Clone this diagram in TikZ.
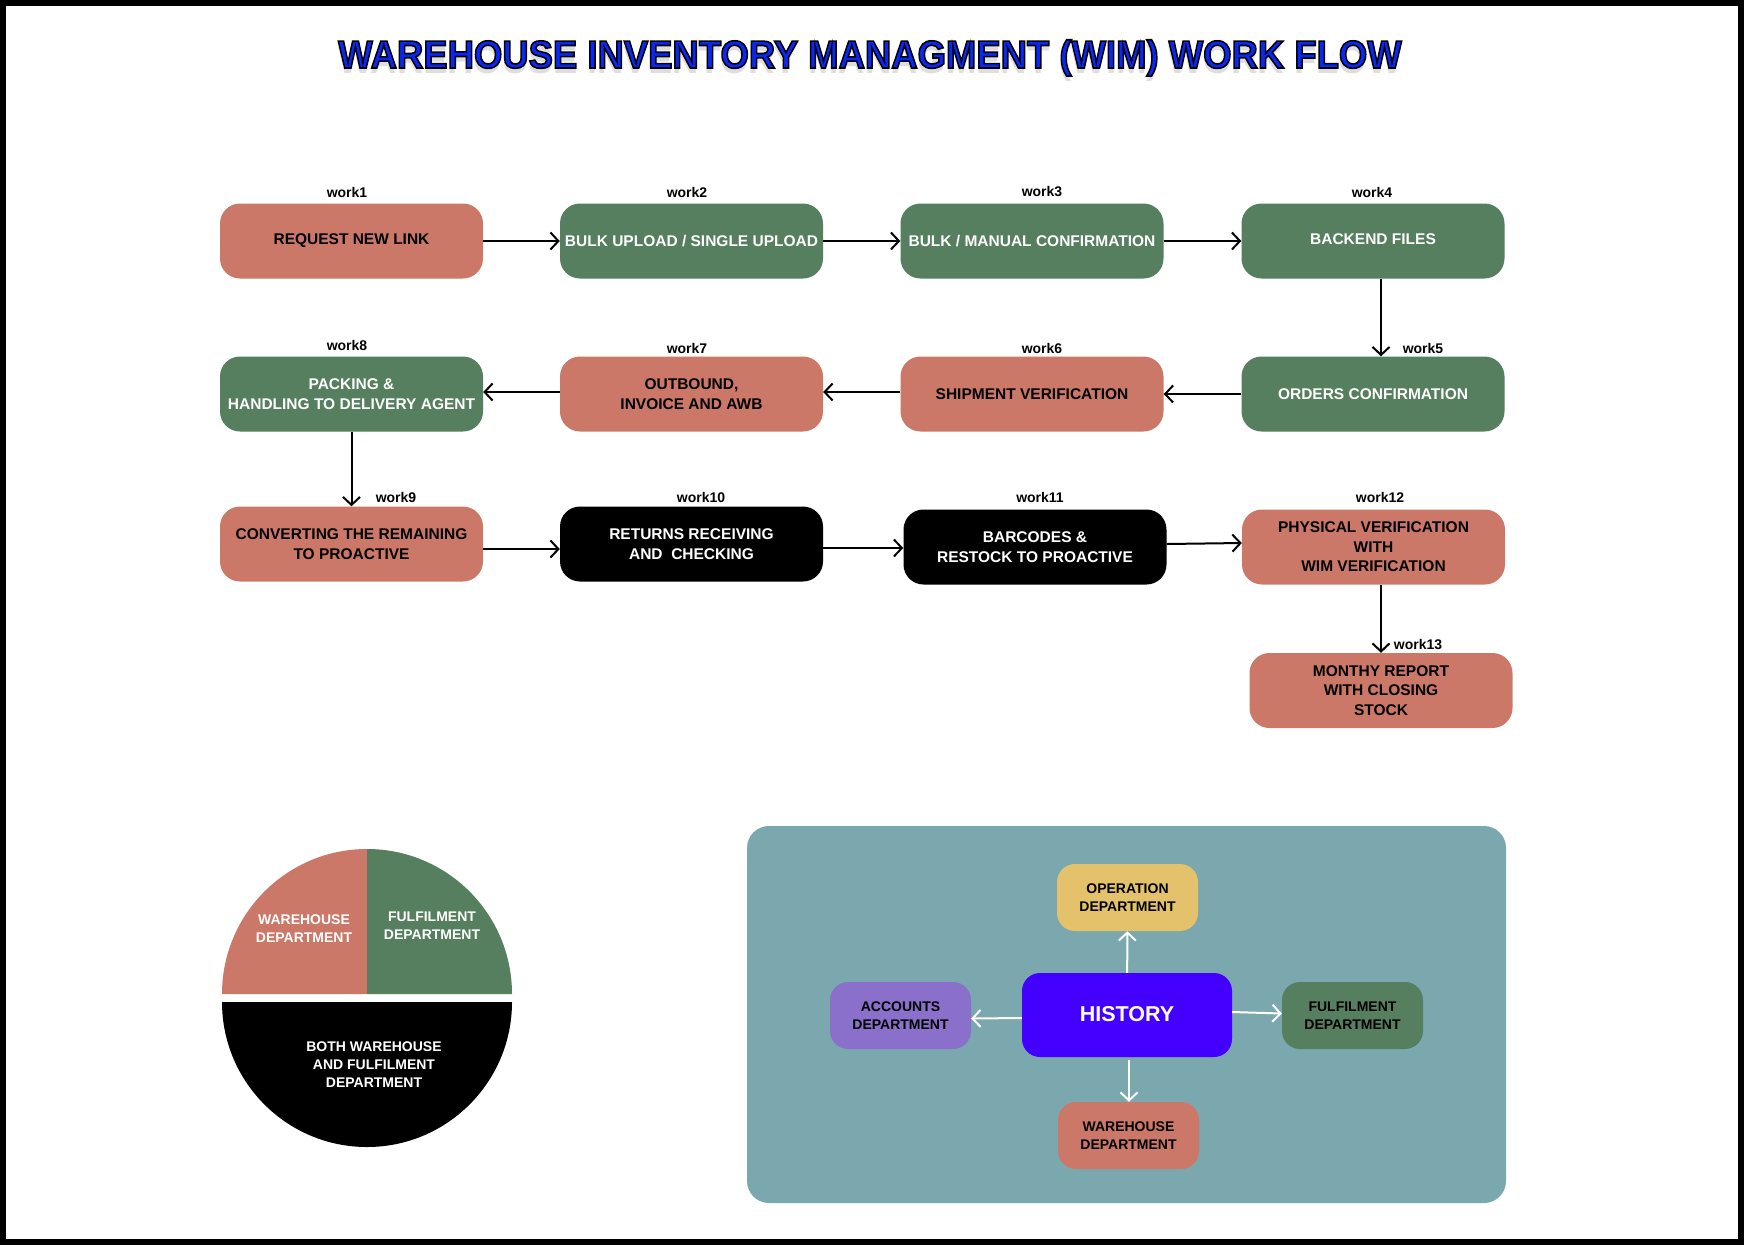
\documentclass[tikz,border=0pt]{standalone}
\usepackage{fontspec}
\setmainfont{Liberation Sans}
\usetikzlibrary{arrows.meta}
\definecolor{salmonc}{HTML}{CB7868}
\definecolor{sagec}{HTML}{557F5E}
\definecolor{panelc}{HTML}{7BA7AF}
\definecolor{goldc}{HTML}{E3C26B}
\definecolor{purpc}{HTML}{8A6FCB}
\definecolor{histc}{HTML}{4400FF}
\definecolor{titlec}{HTML}{0A28F5}
\newcommand\wimtitle{\scalebox{0.935}[1]{WAREHOUSE INVENTORY MANAGMENT (WIM) WORK FLOW}}
\newcommand\wimoutline[1]{\special{pdf:literal direct 0 0 0 RG 1.6 w 2 Tr}#1\special{pdf:literal direct 0 Tr}}
\begin{document}
\begin{tikzpicture}[x=1pt,y=-1pt,
  flow/.style={rounded corners=20pt, minimum width=263pt, minimum height=75pt, inner sep=0pt, align=center, font=\fontsize{15.5}{19.5}\selectfont\bfseries},
  sbox/.style={flow, fill=salmonc, text=black},
  gbox/.style={flow, fill=sagec, text=white},
  kbox/.style={flow, fill=black, text=white},
  lbl/.style={font=\fontsize{14}{16}\selectfont\bfseries, inner sep=0pt},
  arr/.style={-{Straight Barb[length=8pt,width=17pt]}, line width=2pt},
  warr/.style={arr, draw=white},
  dept/.style={rounded corners=18pt, minimum width=141pt, minimum height=67pt, inner sep=0pt, align=center, font=\fontsize{14}{18}\selectfont\bfseries, text=black},
  pietext/.style={align=center, text=white, inner sep=0pt, font=\fontsize{14}{18}\selectfont\bfseries},
  ttl/.style={anchor=base, inner sep=0pt, font=\fontsize{39}{44}\selectfont\bfseries}
]
\useasboundingbox (0,0) rectangle (1744,1245);
\fill[white] (0,0) rectangle (1744,1245);
\draw[line width=6pt] (3,3) rectangle (1741,1242);

% title
\node[ttl, text=black, opacity=0.13] (tshadow) at (870,73) {\wimtitle};
\node[ttl, text=titlec] (title) at (870,68) {\wimoutline{\wimtitle}};

% row 1
\node[sbox] (w1) at (351.5,241) {REQUEST NEW LINK};
\node[gbox] (w2) at (691.5,241) {BULK UPLOAD / SINGLE UPLOAD};
\node[gbox] (w3) at (1032,241) {BULK / MANUAL CONFIRMATION};
\node[gbox] (w4) at (1373,241) {\raisebox{3pt}{BACKEND FILES}};
% row 2
\node[gbox] (w8) at (351.5,394) {PACKING \&\\HANDLING TO DELIVERY AGENT};
\node[sbox] (w7) at (691.5,394) {OUTBOUND,\\INVOICE AND AWB};
\node[sbox] (w6) at (1032,394) {SHIPMENT VERIFICATION};
\node[gbox] (w5) at (1373,394) {ORDERS CONFIRMATION};
% row 3
\node[sbox] (w9) at (351.5,544) {CONVERTING THE REMAINING\\TO PROACTIVE};
\node[kbox] (w10) at (691.5,544) {RETURNS RECEIVING\\AND\ \ CHECKING};
\node[kbox] (w11) at (1035,547) {BARCODES \&\\RESTOCK TO PROACTIVE};
\node[sbox] (w12) at (1373.5,547) {PHYSICAL VERIFICATION\\WITH\\WIM VERIFICATION};
\node[sbox] (w13) at (1381,690.5) {MONTHY REPORT\\WITH CLOSING\\STOCK};

% labels
\node[lbl] (l1) at (347,192) {work1};
\node[lbl] (l2) at (687,192) {work2};
\node[lbl] (l3) at (1042,192) {work3};
\node[lbl] (l4) at (1372,192) {work4};
\node[lbl] (l8) at (347,345) {work8};
\node[lbl] (l7) at (687,348) {work7};
\node[lbl] (l6) at (1042,348) {work6};
\node[lbl] (l5) at (1423,348) {work5};
\node[lbl] (l9) at (396,497) {work9};
\node[lbl] (l10) at (701,497) {work10};
\node[lbl] (l11) at (1040,497) {work11};
\node[lbl] (l12) at (1380,497) {work12};
\node[lbl] (l13) at (1418,644) {work13};

% connectors
\draw[arr] (w1) -- (w2);
\draw[arr] (w2) -- (w3);
\draw[arr] (w3) -- (w4);
\draw[arr] ([xshift=8pt]w4.south) -- ([xshift=8pt]w5.north);
\draw[arr] (w5) -- (w6);
\draw[arr] ([yshift=2pt]w6.west) -- ([yshift=2pt]w7.east);
\draw[arr] ([yshift=2pt]w7.west) -- ([yshift=2pt]w8.east);
\draw[arr] (w8) -- (w9);
\draw[arr] ([yshift=-5pt]w9.east) -- ([yshift=-5pt]w10.west);
\draw[arr] ([yshift=-4pt]w10.east) -- ([yshift=-1pt]w11.west);
\draw[arr] ([yshift=3pt]w11.east) -- ([yshift=4pt]w12.west);
\draw[arr] ([xshift=7.5pt]w12.south) -- (w13.north);

% pie
\fill[salmonc] (367,994) -- (222,994) arc[start angle=180, end angle=270, radius=145] -- cycle;
\fill[sagec] (367,994) -- (367,849) arc[start angle=270, end angle=360, radius=145] -- cycle;
\fill[black] (222,1002) arc[start angle=180, end angle=0, radius=145] -- cycle;
\node[pietext] (pw) at (304,929) {WAREHOUSE\\DEPARTMENT};
\node[pietext] (pf) at (432,926) {FULFILMENT\\DEPARTMENT};
\node[pietext] (pb) at (374,1065) {BOTH WAREHOUSE\\AND FULFILMENT\\DEPARTMENT};

% history panel
\node[fill=panelc, rounded corners=22pt, minimum width=759pt, minimum height=377pt, inner sep=0pt] (panel) at (1126.5,1014.5) {};
\node[dept, fill=goldc] (oper) at (1127.5,897.5) {OPERATION\\DEPARTMENT};
\node[dept, fill=histc, minimum width=210pt, minimum height=84pt, text=white, font=\fontsize{21.5}{24}\selectfont\bfseries] (hist) at (1127,1015) {\raisebox{3pt}{HISTORY}};
\node[dept, fill=purpc] (acc) at (900.5,1015.5) {ACCOUNTS\\DEPARTMENT};
\node[dept, fill=sagec] (ful) at (1352.5,1015.5) {FULFILMENT\\DEPARTMENT};
\node[dept, fill=salmonc] (ware) at (1128.5,1135.5) {WAREHOUSE\\DEPARTMENT};
\draw[warr] (hist) -- (oper);
\draw[warr] ([yshift=-3pt]hist.west) -- ([yshift=-3pt]acc.east);
\draw[warr] ([yshift=3pt]hist.east) -- ([yshift=2pt]ful.west);
\draw[warr, shorten <=3pt] ([xshift=2pt]hist.south) -- ([xshift=0.5pt]ware.north);
\end{tikzpicture}
\end{document}
